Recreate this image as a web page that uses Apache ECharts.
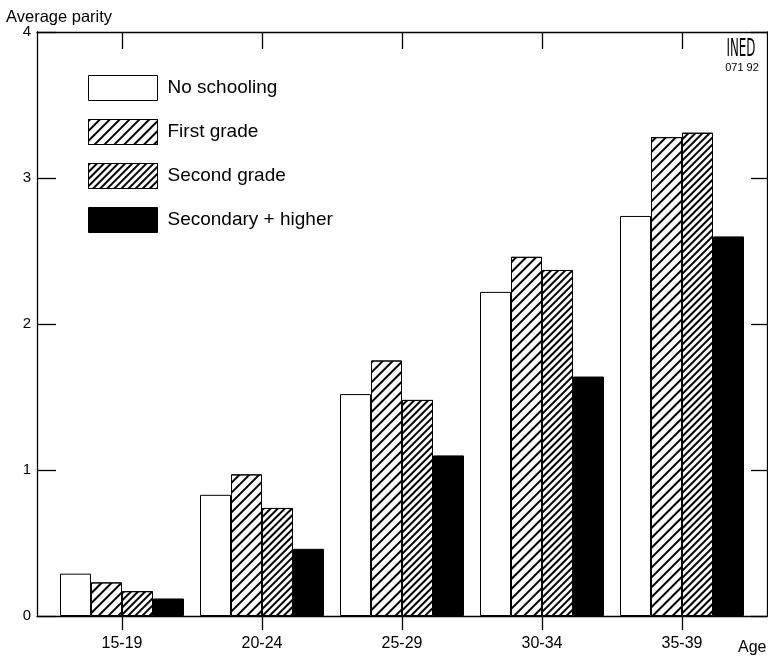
<!DOCTYPE html>
<html>
<head>
<meta charset="utf-8">
<script src="https://cdn.jsdelivr.net/npm/echarts@6/dist/echarts.min.js"></script>
<style>
html,body{margin:0;padding:0;background:#fff;}
#chart{width:768px;height:657px;}
</style>
</head>
<body>
<div id="chart"></div>
<script>
var categories = ['15-19', '20-24', '25-29', '30-34', '35-39'];
var seriesNames = ['No schooling', 'First grade', 'Second grade', 'Secondary + higher'];
var noSchooling = [0.29, 0.83, 1.52, 2.22, 2.74];
var firstGrade = [0.23, 0.97, 1.75, 2.46, 3.28];
var secondGrade = [0.17, 0.74, 1.48, 2.37, 3.31];
var secondaryHigher = [0.12, 0.46, 1.10, 1.64, 2.60];
var yTicks = [0, 1, 2, 3, 4];

var FONT = '"Liberation Sans", Arial, Helvetica, sans-serif';
var chart = echarts.init(document.getElementById('chart'), null, {renderer: 'canvas'});

var hatchThin = {symbol: 'rect', symbolSize: 1, color: '#000', dashArrayX: [1, 0], dashArrayY: [1.2, 4.8], rotation: -Math.PI / 4};
var hatchThick = {symbol: 'rect', symbolSize: 1, color: '#000', dashArrayX: [1, 0], dashArrayY: [2, 2.5], rotation: -Math.PI / 4};

function barSeries(name, data, style) {
  return {
    name: name, type: 'bar', xAxisIndex: 2, yAxisIndex: 2,
    data: data, barWidth: 31, barGap: '0%',
    itemStyle: Object.assign({borderColor: '#000', borderWidth: 1}, style),
    emphasis: {disabled: true}
  };
}

var lineStyle = {color: '#000', width: 1.3};

var option = {
  backgroundColor: '#fff',
  animation: false,
  textStyle: {fontFamily: FONT, color: '#000'},
  grid: [
    {left: 37, right: 1, top: 32, bottom: 41},
    {left: 52, width: 700, top: 32, bottom: 41}
  ],
  legend: {
    orient: 'vertical', left: 88, top: 75, padding: 0,
    itemWidth: 69, itemHeight: 25, itemGap: 18,
    icon: 'rect',
    data: seriesNames,
    textStyle: {fontFamily: FONT, fontSize: 19, color: '#000', padding: [0, 0, 0, 5]},
    itemStyle: {borderColor: '#000', borderWidth: 1}
  },
  xAxis: [
    {gridIndex: 0, type: 'value', min: 0, max: 1, position: 'bottom',
     axisLine: {show: true, onZero: false, lineStyle: lineStyle},
     axisTick: {show: false}, axisLabel: {show: false}, splitLine: {show: false}},
    {gridIndex: 0, type: 'value', min: 0, max: 1, position: 'top',
     axisLine: {show: true, onZero: false, lineStyle: lineStyle},
     axisTick: {show: false}, axisLabel: {show: false}, splitLine: {show: false}},
    {gridIndex: 1, type: 'category', data: categories, position: 'bottom',
     axisLine: {show: false, onZero: false},
     axisTick: {show: true, alignWithLabel: true, length: 14, lineStyle: lineStyle},
     axisLabel: {fontFamily: FONT, fontSize: 16, color: '#000', margin: 20},
     splitLine: {show: false}},
    {gridIndex: 1, type: 'category', data: categories, position: 'top',
     axisLine: {show: false, onZero: false},
     axisTick: {show: true, inside: true, alignWithLabel: true, length: 17, lineStyle: lineStyle},
     axisLabel: {show: false}, splitLine: {show: false}}
  ],
  yAxis: [
    {gridIndex: 0, type: 'value', min: 0, max: 4, interval: 1, position: 'left',
     axisLine: {show: true, onZero: false, lineStyle: lineStyle},
     axisTick: {show: true, inside: true, length: 19, lineStyle: lineStyle},
     axisLabel: {fontFamily: FONT, fontSize: 15, color: '#000', margin: 6,
       formatter: function (v) { return yTicks.indexOf(v) >= 0 ? String(v) : ''; }},
     splitLine: {show: false}},
    {gridIndex: 0, type: 'value', min: 0, max: 4, interval: 1, position: 'right',
     axisLine: {show: true, onZero: false, lineStyle: lineStyle},
     axisTick: {show: true, inside: true, length: 16, lineStyle: lineStyle},
     axisLabel: {show: false}, splitLine: {show: false}},
    {gridIndex: 1, type: 'value', min: 0, max: 4, interval: 1, show: false}
  ],
  graphic: [
    {type: 'text', left: 6, top: 9, style: {text: 'Average parity', font: '16.5px ' + FONT, fill: '#000'}},
    {type: 'text', left: 738, top: 640, style: {text: 'Age', font: '16px ' + FONT, fill: '#000'}},
    {type: 'text', x: 741, y: 38, scaleX: 0.55, style: {text: 'INED', font: '24px "DejaVu Sans Condensed", "DejaVu Sans", sans-serif', fill: '#000', align: 'center', verticalAlign: 'top'}},
    {type: 'text', x: 742, y: 62, style: {text: '071 92', font: '11px ' + FONT, fill: '#000', align: 'center', verticalAlign: 'top'}}
  ],
  series: [
    barSeries(seriesNames[0], noSchooling, {color: '#fff'}),
    barSeries(seriesNames[1], firstGrade, {color: '#fff', decal: hatchThin}),
    barSeries(seriesNames[2], secondGrade, {color: '#fff', decal: hatchThick}),
    barSeries(seriesNames[3], secondaryHigher, {color: '#000'})
  ]
};
chart.setOption(option);
</script>
</body>
</html>
